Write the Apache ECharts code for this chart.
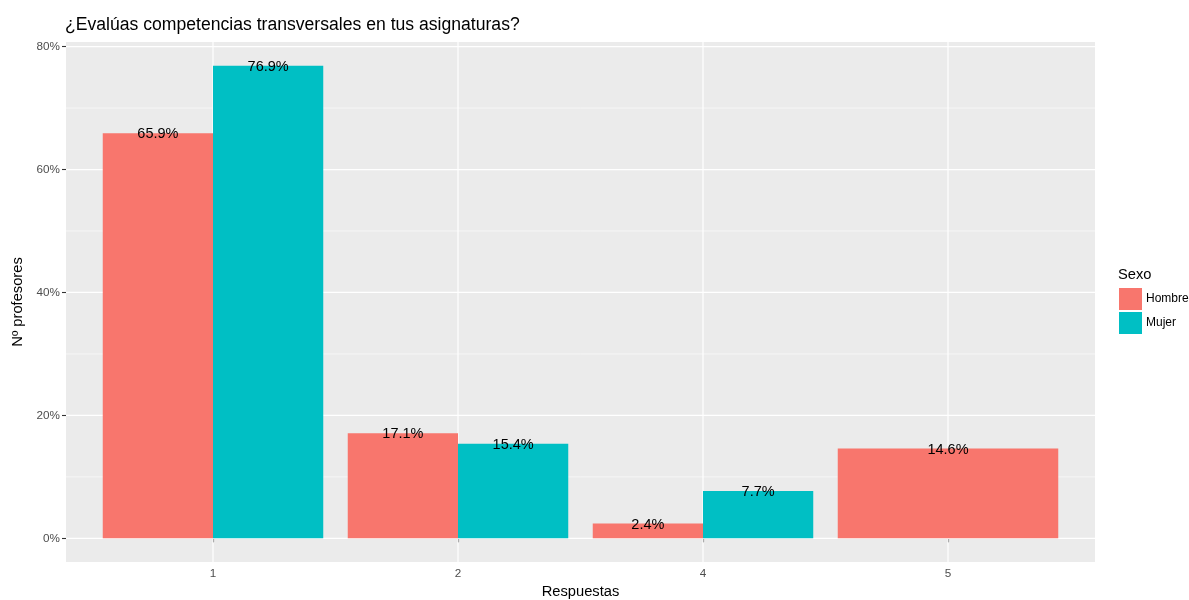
<!DOCTYPE html>
<html>
<head>
<meta charset="utf-8">
<script src="https://cdn.jsdelivr.net/npm/echarts@6/dist/echarts.min.js"></script>
<style>
html,body{margin:0;padding:0;background:#fff;}
#chart{width:1189px;height:600px;}
</style>
</head>
<body>
<div id="chart"></div>
<script>
var categories = ['1', '2', '4', '5'];
var hombre = [65.9, 17.1, 2.4, 14.6];
var mujer = [76.9, 15.4, 7.7, null];
var yTicks = [0, 20, 40, 60, 80];
var yMinor = [10, 30, 50, 70];
var seriesNames = ['Hombre', 'Mujer'];
var colors = ['#F8766D', '#00BFC4'];

var FONT = '"Liberation Sans", Arial, Helvetica, sans-serif';
var positions = categories.map(function (c, i) { return i + 1; });

// ggplot-style dodge: width 0.9 split among present groups
function buildData(seriesIdx) {
  var out = [];
  for (var i = 0; i < categories.length; i++) {
    var vals = [hombre[i], mujer[i]];
    var present = [];
    vals.forEach(function (v, k) { if (v !== null && v !== undefined) present.push(k); });
    var k = present.indexOf(seriesIdx);
    if (k < 0) continue;
    var n = present.length;
    var w = 0.9 / n;
    var left = positions[i] - 0.45 + k * w;
    out.push([left, vals[seriesIdx], left + w]);
  }
  return out;
}

function barRender(params, api) {
  var x0 = api.value(0), v = api.value(1), x1 = api.value(2);
  var p0 = api.coord([x0, v]);
  var p1 = api.coord([x1, 0]);
  var cx = (p0[0] + p1[0]) / 2;
  return {
    type: 'group',
    children: [
      {
        type: 'rect',
        shape: { x: p0[0], y: p0[1], width: p1[0] - p0[0], height: p1[1] - p0[1] },
        style: { fill: api.visual('color') }
      },
      {
        type: 'text',
        z2: 10,
        style: {
          x: cx, y: p0[1] + 1,
          text: v.toFixed(1) + '%',
          align: 'center', verticalAlign: 'middle',
          fill: '#000', font: '14.5px ' + FONT
        }
      }
    ]
  };
}

var gridLines = [];
yTicks.forEach(function (t) { gridLines.push(['y', t, 1.2]); });
yMinor.forEach(function (t) { gridLines.push(['y', t, 0.6]); });
positions.forEach(function (t) { gridLines.push(['x', t, 1.2]); });

function gridRender(params, api) {
  var dir = gridLines[params.dataIndex][0];
  var val = api.value(1);
  var w = api.value(2);
  var cs = params.coordSys;
  var shape;
  if (dir === 'y') {
    var y = api.coord([1, val])[1];
    shape = { x1: cs.x, y1: y, x2: cs.x + cs.width, y2: y };
  } else {
    var x = api.coord([val, 0])[0];
    shape = { x1: x, y1: cs.y, x2: x, y2: cs.y + cs.height };
  }
  return { type: 'line', shape: shape, style: { stroke: '#FFFFFF', lineWidth: w } };
}

var chart = echarts.init(document.getElementById('chart'), null, { renderer: 'canvas' });
chart.setOption({
  animation: false,
  backgroundColor: '#FFFFFF',
  title: {
    text: '¿Evalúas competencias transversales en tus asignaturas?',
    left: 60, top: 11,
    textStyle: { fontFamily: FONT, fontSize: 17.6, fontWeight: 'normal', color: '#000' }
  },
  legend: {
    orient: 'vertical',
    left: 1119, top: 288, padding: 0,
    itemWidth: 23, itemHeight: 22, itemGap: 2,
    icon: 'rect',
    data: seriesNames,
    textStyle: { fontFamily: FONT, fontSize: 12, color: '#000', padding: [0, 0, 0, -1] }
  },
  graphic: [{
    type: 'text', left: 1118, top: 267,
    style: { text: 'Sexo', font: '14.7px ' + FONT, fill: '#000' }
  }],
  grid: { left: 66, right: 94, top: 42, bottom: 38, backgroundColor: '#EBEBEB', show: true, borderWidth: 0, outerBoundsMode: 'none', containLabel: false },
  xAxis: {
    type: 'value', min: 0.4, max: 4.6,
    name: 'Respuestas', nameLocation: 'middle', nameGap: 22,
    nameTextStyle: { fontFamily: FONT, fontSize: 14.7, color: '#000' },
    axisLine: { show: false },
    axisTick: { show: true, length: 4, customValues: positions, lineStyle: { color: '#333', width: 1.1 } },
    axisLabel: {
      customValues: positions, margin: 6,
      formatter: function (v) { return categories[Math.round(v) - 1]; },
      fontFamily: FONT, fontSize: 11.7, color: '#4D4D4D'
    },
    splitLine: { show: false }
  },
  yAxis: {
    type: 'value', min: -3.845, max: 80.745,
    name: 'Nº profesores', nameLocation: 'middle', nameGap: 39, nameRotate: 90,
    nameTextStyle: { fontFamily: FONT, fontSize: 14.7, color: '#000' },
    axisLine: { show: false },
    axisTick: { show: true, length: 4, customValues: yTicks, lineStyle: { color: '#333', width: 1.1 } },
    axisLabel: {
      customValues: yTicks, margin: 6,
      formatter: function (v) { return v + '%'; },
      fontFamily: FONT, fontSize: 11.7, color: '#4D4D4D'
    },
    splitLine: { show: false }
  },
  series: [
    {
      type: 'custom', name: 'grid', silent: true, z: 1,
      renderItem: gridRender,
      data: gridLines.map(function (g) { return [0, g[1], g[2]]; }),
      encode: { x: -1, y: -1 },
      clip: true
    },
    {
      type: 'custom', name: seriesNames[0], z: 2,
      itemStyle: { color: colors[0] },
      renderItem: barRender,
      data: buildData(0),
      encode: { x: [0, 2], y: 1 }
    },
    {
      type: 'custom', name: seriesNames[1], z: 2,
      itemStyle: { color: colors[1] },
      renderItem: barRender,
      data: buildData(1),
      encode: { x: [0, 2], y: 1 }
    }
  ]
});
</script>
</body>
</html>
